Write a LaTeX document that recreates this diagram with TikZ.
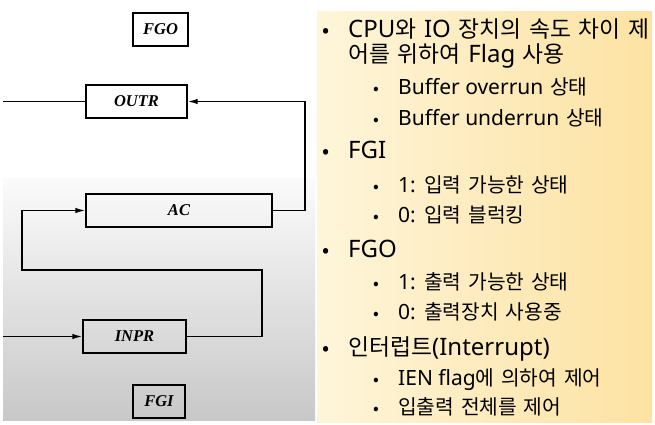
\documentclass[tikz,border=0pt]{standalone}
\usepackage{fontspec}
\newfontfamily\kr{Noto Sans CJK KR}[WordSpace=1.5]
\newfontfamily\lat{Noto Sans}
\newfontfamily\diag{Liberation Serif}
\newcommand\latA[1]{{\lat\fontsize{24}{26}\selectfont #1}}
\newcommand\latB[1]{{\lat\fontsize{21}{24}\selectfont #1}}
\usetikzlibrary{arrows.meta}
\definecolor{panelL}{HTML}{FEF5DA}
\definecolor{panelR}{HTML}{FDE2A2}
\definecolor{greyTop}{HTML}{FBFBFB}
\definecolor{greyBot}{HTML}{C8C8C8}
\begin{document}
\begin{tikzpicture}[x=1pt,y=-1pt,
  reg/.style={draw=black,line width=1.4pt,inner sep=0pt,minimum height=33pt,
    font=\diag\bfseries\itshape\fontsize{16.5}{16.5}\selectfont},
  wire/.style={line width=1.4pt},
  arr/.style={wire,-{Latex[length=10pt,width=5.5pt]}},
  lvA/.style={anchor=base west,inner sep=0pt,font=\kr\fontsize{22.8}{25}\selectfont},
  lvB/.style={anchor=base west,inner sep=0pt,font=\kr\fontsize{20.3}{24}\selectfont},
  dotA/.style={anchor=base,inner sep=0pt,font=\kr\fontsize{21}{25}\selectfont},
  dotB/.style={anchor=base,inner sep=0pt,font=\kr\fontsize{17}{20}\selectfont}]
\useasboundingbox (0,0) rectangle (655,425);
\fill[white] (0,0) rectangle (655,425);
% grey background of the scanned figure
\shade[top color=greyTop,bottom color=greyBot] (3,178) rectangle (315,420);
% yellow panel
\shade[left color=panelL,right color=panelR] (317,12) rectangle (652,422);

% registers
\node[reg,minimum width=55pt] (FGO) at (160.5,29.5) {FGO};
\node[reg,minimum width=101pt] (OUTR) at (136.5,101.5) {OUTR};
\node[reg,minimum width=186pt] (AC) at (179,210.5) {AC};
\node[reg,minimum width=103pt] (INPR) at (134.5,336.5) {INPR};
\node[reg,minimum width=52pt] (FGI) at (159,401.5) {FGI};

\coordinate (outL) at (3,101.5);
\coordinate (inL) at (3,336.5);
\coordinate (upR) at (305,101.5);
\coordinate (loopR) at (262,270);
\coordinate (loopL) at (22,270);

\draw[wire] (OUTR.west) -- (outL);
\draw[arr] (AC.east) -| (upR) -- (OUTR.east);
\draw[arr] (INPR.east) -| (loopR) -- (loopL) |- (AC.west);
\draw[arr] (inL) -- (INPR.west);

% text
\node[dotA] (b1) at (326,38) {•};
\node[lvA] (t1) at (348,38) {\latA{CPU}와 \latA{IO} 장치의 속도 차이 제};
\node[lvA] (t1b) at (348,63) {어를 위하여 \latA{Flag} 사용};
\node[dotB] (b2) at (376,95) {•};
\node[lvB] (t2) at (398,95) {\latB{Buffer overrun} 상태};
\node[dotB] (b3) at (376,125) {•};
\node[lvB] (t3) at (398,125) {\latB{Buffer underrun} 상태};
\node[dotA] (b4) at (326,158) {•};
\node[lvA] (t4) at (348,158) {\latA{FGI}};
\node[dotB] (b5) at (376,192) {•};
\node[lvB] (t5) at (398,192) {\latB{1:} 입력 가능한 상태};
\node[dotB] (b6) at (376,222) {•};
\node[lvB] (t6) at (398,222) {\latB{0:} 입력 블럭킹};
\node[dotA] (b7) at (326,257) {•};
\node[lvA] (t7) at (348,257) {\latA{FGO}};
\node[dotB] (b8) at (376,289) {•};
\node[lvB] (t8) at (398,289) {\latB{1:} 출력 가능한 상태};
\node[dotB] (b9) at (376,319) {•};
\node[lvB] (t9) at (398,319) {\latB{0:} 출력장치 사용중};
\node[dotA] (b10) at (326,355) {•};
\node[lvA] (t10) at (348,355) {인터럽트\latA{(Interrupt)}};
\node[dotB] (b11) at (376,385) {•};
\node[lvB] (t11) at (398,385) {\latB{IEN flag}에 의하여 제어};
\node[dotB] (b12) at (376,414) {•};
\node[lvB] (t12) at (398,414) {입출력 전체를 제어};
\end{tikzpicture}
\end{document}
